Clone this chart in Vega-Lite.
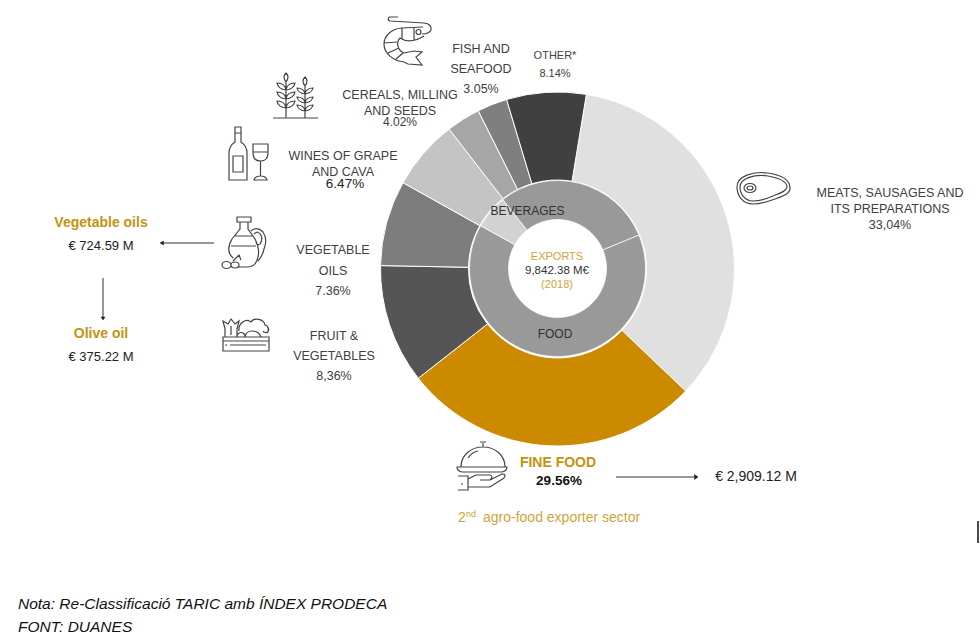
{"$schema":"https://vega.github.io/schema/vega-lite/v6.json","width":980,"height":636,"padding":0,"autosize":"none","background":"white","view":{"stroke":null},
"config":{"text":{"font":"Liberation Sans","baseline":"middle","align":"center","color":"#404040"},"point":{"filled":false,"opacity":1,"stroke":"#444444","strokeWidth":1.2,"size":4}},
"resolve":{"scale":{"theta":"independent"}},
"layer":[
{"data":{"values":[{"category":"Meats, sausages and its preparations","rank":1,"share":34.5},{"category":"Fine food","rank":2,"share":27.3},{"category":"Fruit & vegetables","rank":3,"share":10.9},{"category":"Vegetable oils","rank":4,"share":7.8},{"category":"Wines of grape and cava","rank":5,"share":6.4},{"category":"Cereals, milling and seeds","rank":6,"share":3.1},{"category":"Fish and seafood","rank":7,"share":2.75},{"category":"Other","rank":8,"share":7.25}]},
"mark":{"type":"arc","innerRadius":89,"outerRadius":177,"stroke":"white","strokeWidth":1},
"encoding":{"x":{"datum":557.5,"type":"quantitative","scale":{"domain":[0,980],"nice":false},"axis":null},"y":{"datum":269,"type":"quantitative","scale":{"domain":[636,0],"nice":false},"axis":null},
"theta":{"field":"share","type":"quantitative","stack":true,"scale":{"domain":[0,100],"range":[0.164,6.447]}},"order":{"field":"rank"},
"color":{"field":"category","type":"nominal","legend":null,"scale":{"domain":["Meats, sausages and its preparations","Fine food","Fruit & vegetables","Vegetable oils","Wines of grape and cava","Cereals, milling and seeds","Fish and seafood","Other","Food","Wines","Beverages"],"range":["#e0e0e0","#cc8a00","#555555","#7d7d7d","#c4c4c4","#a6a6a6","#7f7f7f","#404040","#999999","#d2d2d2","#999999"]}}}},
{"data":{"values":[{"category":"Food","rank":1,"share":64.3},{"category":"Wines","rank":2,"share":6.25},{"category":"Beverages","rank":3,"share":29.45}]},
"mark":{"type":"arc","innerRadius":49,"outerRadius":88,"stroke":"white","strokeWidth":0.7},
"encoding":{"x":{"datum":557.5,"type":"quantitative","axis":null},"y":{"datum":268.5,"type":"quantitative","axis":null},
"theta":{"field":"share","type":"quantitative","stack":true,"scale":{"domain":[0,100],"range":[1.18,7.463]}},"order":{"field":"rank"},
"color":{"field":"category","type":"nominal","legend":null}}},
{"data":{"values":[{}]},"layer":[
{"mark":{"type":"text","text":["FISH AND","SEAFOOD","3.05%"],"fontSize":12.5,"lineHeight":20},"encoding":{"x":{"datum":481,"type":"quantitative","axis":null},"y":{"datum":49,"type":"quantitative","axis":null}}},
{"mark":{"type":"text","text":["OTHER*","8.14%"],"fontSize":11,"lineHeight":18},"encoding":{"x":{"datum":555,"type":"quantitative","axis":null},"y":{"datum":56,"type":"quantitative","axis":null}}},
{"mark":{"type":"text","text":["CEREALS, MILLING","AND SEEDS"],"fontSize":12.5,"lineHeight":16},"encoding":{"x":{"datum":400,"type":"quantitative","axis":null},"y":{"datum":95,"type":"quantitative","axis":null}}},
{"mark":{"type":"text","text":"4.02%","fontSize":12},"encoding":{"x":{"datum":400,"type":"quantitative","axis":null},"y":{"datum":122,"type":"quantitative","axis":null}}},
{"mark":{"type":"text","text":["WINES OF GRAPE","AND CAVA"],"fontSize":12.5,"lineHeight":16},"encoding":{"x":{"datum":343,"type":"quantitative","axis":null},"y":{"datum":156,"type":"quantitative","axis":null}}},
{"mark":{"type":"text","text":"6.47%","fontSize":13.5,"color":"#222222"},"encoding":{"x":{"datum":345,"type":"quantitative","axis":null},"y":{"datum":184,"type":"quantitative","axis":null}}},
{"mark":{"type":"text","text":["VEGETABLE","OILS","7.36%"],"fontSize":12.5,"lineHeight":20.5},"encoding":{"x":{"datum":333,"type":"quantitative","axis":null},"y":{"datum":250,"type":"quantitative","axis":null}}},
{"mark":{"type":"text","text":["FRUIT &","VEGETABLES","8,36%"],"fontSize":12.5,"lineHeight":20},"encoding":{"x":{"datum":334,"type":"quantitative","axis":null},"y":{"datum":336,"type":"quantitative","axis":null}}},
{"mark":{"type":"text","text":["MEATS, SAUSAGES AND","ITS PREPARATIONS","33,04%"],"fontSize":12.5,"lineHeight":16},"encoding":{"x":{"datum":890,"type":"quantitative","axis":null},"y":{"datum":193,"type":"quantitative","axis":null}}},
{"mark":{"type":"text","text":"Vegetable oils","fontSize":14,"fontWeight":"bold","color":"#c4930f"},"encoding":{"x":{"datum":101,"type":"quantitative","axis":null},"y":{"datum":223,"type":"quantitative","axis":null}}},
{"mark":{"type":"text","text":"€ 724.59 M","fontSize":13,"color":"#222222"},"encoding":{"x":{"datum":101,"type":"quantitative","axis":null},"y":{"datum":246,"type":"quantitative","axis":null}}},
{"mark":{"type":"text","text":"Olive oil","fontSize":14,"fontWeight":"bold","color":"#c4930f"},"encoding":{"x":{"datum":101,"type":"quantitative","axis":null},"y":{"datum":334,"type":"quantitative","axis":null}}},
{"mark":{"type":"text","text":"€ 375.22 M","fontSize":13,"color":"#222222"},"encoding":{"x":{"datum":101,"type":"quantitative","axis":null},"y":{"datum":357,"type":"quantitative","axis":null}}},
{"mark":{"type":"text","text":"FINE FOOD","fontSize":14,"fontWeight":"bold","color":"#c4930f"},"encoding":{"x":{"datum":558,"type":"quantitative","axis":null},"y":{"datum":463,"type":"quantitative","axis":null}}},
{"mark":{"type":"text","text":"29.56%","fontSize":13.5,"fontWeight":"bold","color":"#111111"},"encoding":{"x":{"datum":559,"type":"quantitative","axis":null},"y":{"datum":481,"type":"quantitative","axis":null}}},
{"mark":{"type":"text","text":"€ 2,909.12 M","fontSize":14,"color":"#222222"},"encoding":{"x":{"datum":756,"type":"quantitative","axis":null},"y":{"datum":477,"type":"quantitative","axis":null}}},
{"mark":{"type":"text","text":"2","fontSize":14,"align":"left","color":"#d0a33a"},"encoding":{"x":{"datum":458,"type":"quantitative","axis":null},"y":{"datum":518,"type":"quantitative","axis":null}}},
{"mark":{"type":"text","text":"nd","fontSize":9,"align":"left","color":"#d0a33a"},"encoding":{"x":{"datum":466,"type":"quantitative","axis":null},"y":{"datum":514,"type":"quantitative","axis":null}}},
{"mark":{"type":"text","text":"agro-food exporter sector","fontSize":14,"align":"left","color":"#d0a33a"},"encoding":{"x":{"datum":483,"type":"quantitative","axis":null},"y":{"datum":518,"type":"quantitative","axis":null}}},
{"mark":{"type":"text","text":"BEVERAGES","fontSize":12,"color":"#333333"},"encoding":{"x":{"datum":527.5,"type":"quantitative","axis":null},"y":{"datum":211,"type":"quantitative","axis":null}}},
{"mark":{"type":"text","text":"FOOD","fontSize":12,"color":"#333333"},"encoding":{"x":{"datum":555,"type":"quantitative","axis":null},"y":{"datum":334,"type":"quantitative","axis":null}}},
{"mark":{"type":"text","text":"EXPORTS","fontSize":11,"color":"#d0a33a"},"encoding":{"x":{"datum":557,"type":"quantitative","axis":null},"y":{"datum":257,"type":"quantitative","axis":null}}},
{"mark":{"type":"text","text":"9,842.38 M€","fontSize":11.5,"color":"#333333"},"encoding":{"x":{"datum":557,"type":"quantitative","axis":null},"y":{"datum":271,"type":"quantitative","axis":null}}},
{"mark":{"type":"text","text":"(2018)","fontSize":11,"color":"#d0a33a"},"encoding":{"x":{"datum":557,"type":"quantitative","axis":null},"y":{"datum":285,"type":"quantitative","axis":null}}},
{"mark":{"type":"text","text":["Nota: Re-Classificació TARIC amb ÍNDEX PRODECA","FONT: DUANES"],"fontSize":15.5,"fontStyle":"italic","align":"left","lineHeight":23,"color":"#111111"},"encoding":{"x":{"datum":18,"type":"quantitative","axis":null},"y":{"datum":603.5,"type":"quantitative","axis":null}}},
{"mark":{"type":"rule","color":"#333333","strokeWidth":1},"encoding":{"x":{"datum":161,"type":"quantitative","axis":null},"x2":{"datum":214},"y":{"datum":243,"type":"quantitative","axis":null}}},
{"mark":{"type":"rule","color":"#333333","strokeWidth":1},"encoding":{"x":{"datum":103,"type":"quantitative","axis":null},"y":{"datum":278,"type":"quantitative","axis":null},"y2":{"datum":318}}},
{"mark":{"type":"rule","color":"#333333","strokeWidth":1},"encoding":{"x":{"datum":616,"type":"quantitative","axis":null},"x2":{"datum":696},"y":{"datum":477,"type":"quantitative","axis":null}}},
{"mark":{"type":"rule","color":"#111111","strokeWidth":1.5},"encoding":{"x":{"datum":978,"type":"quantitative","axis":null},"y":{"datum":521,"type":"quantitative","axis":null},"y2":{"datum":543}}},
{"mark":{"type":"point","filled":true,"fill":"#222222","stroke":"#222222","strokeWidth":0.5,"shape":"M-2,0 L1.5,-2 V2 Z"},"encoding":{"x":{"datum":162,"type":"quantitative","axis":null},"y":{"datum":243,"type":"quantitative","axis":null}}},
{"mark":{"type":"point","filled":true,"fill":"#222222","stroke":"#222222","strokeWidth":0.5,"shape":"M0,2 L-2,-1 H2 Z"},"encoding":{"x":{"datum":103,"type":"quantitative","axis":null},"y":{"datum":318,"type":"quantitative","axis":null}}},
{"mark":{"type":"point","filled":true,"fill":"#222222","stroke":"#222222","strokeWidth":0.5,"shape":"M2,0 L-1.5,-2.5 V2.5 Z"},"encoding":{"x":{"datum":696,"type":"quantitative","axis":null},"y":{"datum":477,"type":"quantitative","axis":null}}},
{"mark":{"type":"point","shape":"M-19,-23 H-10 M-19,-23 Q-21,-20 -18,-19 L16,-17 Q24,-16 23,-10 Q21,-6 14,-6 M15,-13 L-6,-12 C-18,-11 -24,-3 -24,4 C-24,14 -14,21 -4,22 M16,-4 C6,2 -2,2 -8,-2 C-12,2 -11,10 -4,13 M-6,-12 V-1 M6,-12 V1 M-24,3 L-11,2 M-20,13 L-9,8 M-12,19 L-5,13 M8,-8 a2.5,2.5 0 1,0 5,0 a2.5,2.5 0 1,0 -5,0 M-4,13 L6,11 L14,12 L8,17 L14,25 L0,24 L-4,22"},"encoding":{"x":{"datum":408,"type":"quantitative","axis":null},"y":{"datum":40,"type":"quantitative","axis":null}}},
{"mark":{"type":"point","shape":"M-22,22 H23 M-9,22 V-14 M10,22 V-10 M-9,-14 Q-13,-19 -9,-23 Q-5,-19 -9,-14 M10,-10 Q6,-15 10,-19 Q14,-15 10,-10 M-9,-6 Q-17,-7 -18,-13 Q-10,-13 -9,-6 M-9,-6 Q-1,-7 0,-13 Q-8,-13 -9,-6 M-9,3 Q-17,2 -18,-4 Q-10,-4 -9,3 M-9,3 Q-1,2 0,-4 Q-8,-4 -9,3 M-9,12 Q-17,11 -18,5 Q-10,5 -9,12 M-9,12 Q-1,11 0,5 Q-8,5 -9,12 M10,-2 Q3,-3 2,-8 Q9,-8 10,-2 M10,-2 Q17,-3 18,-8 Q11,-8 10,-2 M10,7 Q3,6 2,1 Q9,1 10,7 M10,7 Q17,6 18,1 Q11,1 10,7 M10,15 Q3,14 2,9 Q9,9 10,15 M10,15 Q17,14 18,9 Q11,9 10,15"},"encoding":{"x":{"datum":295,"type":"quantitative","axis":null},"y":{"datum":96,"type":"quantitative","axis":null}}},
{"mark":{"type":"point","shape":"M-13,-26 H-7 V-11 Q-1,-7 -1,0 V27 H-19 V0 Q-19,-7 -13,-11 Z M-13,-20 H-7 M-15,3 H-5 V19 H-15 Z M5,-9 H20 V0 Q20,8 12.5,8 Q5,8 5,0 Z M5,-1 H20 M12.5,8 V23 M6,27 Q7,23 12.5,23 Q18,23 19,27 Z"},"encoding":{"x":{"datum":248,"type":"quantitative","axis":null},"y":{"datum":153,"type":"quantitative","axis":null}}},
{"mark":{"type":"point","shape":"M-8,-26 H6 V-21 H-8 Z M-5,-21 V-14 L-13,-4 Q-20,8 -12,15 M3,-21 V-14 L10,-4 Q15,6 13,14 Q11,24 2,24 H-8 M-14,3 H11 M-11,-7 H8 M6,-12 Q12,-17 18,-11 Q23,-4 19,6 Q17,14 13,18 M9,-9 Q13,-13 16,-8 Q18,-3 15,1 Q12,3 11,-1 M-23,22 a4.5,3.5 0 1,0 9,0 a4.5,3.5 0 1,0 -9,0 M-14,22 a4,3 0 1,0 8,0 a4,3 0 1,0 -8,0 M-12,18 L-6,12 L-4,17"},"encoding":{"x":{"datum":245,"type":"quantitative","axis":null},"y":{"datum":243,"type":"quantitative","axis":null}}},
{"mark":{"type":"point","shape":"M-23,5 H23 V19 H-23 Z M-23,9 H23 M-21,13 H-19 M-16,13 H20 M-21,5 V-3 L-23,-11 L-18,-8 L-15,-13 L-11,-8 L-7,-11 L-9,-3 V5 M-9,5 C-9,-1 -1,-1 -1,5 M-7,-1 C-8,-9 0,-14 5,-10 C8,-15 18,-13 19,-7 C23,-6 23,-1 21,1 M-1,5 C0,-3 12,-3 15,5 M17,-1 a3,3 0 1,0 4,-4 M-15,-6 V3"},"encoding":{"x":{"datum":246,"type":"quantitative","axis":null},"y":{"datum":332,"type":"quantitative","axis":null}}},
{"mark":{"type":"point","shape":"M-26,-1 C-26,-12 -10,-17 5,-15 C18,-13 27,-8 27,0 C27,6 20,8 12,11 C4,14 -2,16 -10,16 C-20,16 -26,8 -26,-1 Z M-23,-1 C-23,-10 -8,-14 5,-12 C16,-10 24,-6 24,-1 C24,3 17,5 10,8 C3,11 -3,13 -10,13 C-18,13 -23,6 -23,-1 Z M-19,0 a6,4.5 0 1,0 12,0 a6,4.5 0 1,0 -12,0 M-16,0 a3,2 0 1,0 6,0 a3,2 0 1,0 -6,0"},"encoding":{"x":{"datum":763,"type":"quantitative","axis":null},"y":{"datum":188,"type":"quantitative","axis":null}}},
{"mark":{"type":"point","shape":"M-21,1 C-21,-11 -11,-19 1,-19 C13,-19 23,-11 23,1 M-25,1 H25 Q25,5 20,6 H-20 Q-25,5 -25,1 Z M1,-19 V-23 M-2,-24 H4 M-14,-8 Q-10,-14 -4,-15 M-24,10 H-14 V24 H-24 M-21,18 h2 M-14,13 L-6,9 H8 Q12,10 8,14 H-2 M8,14 L20,8 Q25,8 22,12 L8,21 H-14"},"encoding":{"x":{"datum":482,"type":"quantitative","axis":null},"y":{"datum":466,"type":"quantitative","axis":null}}}
]}
]}
